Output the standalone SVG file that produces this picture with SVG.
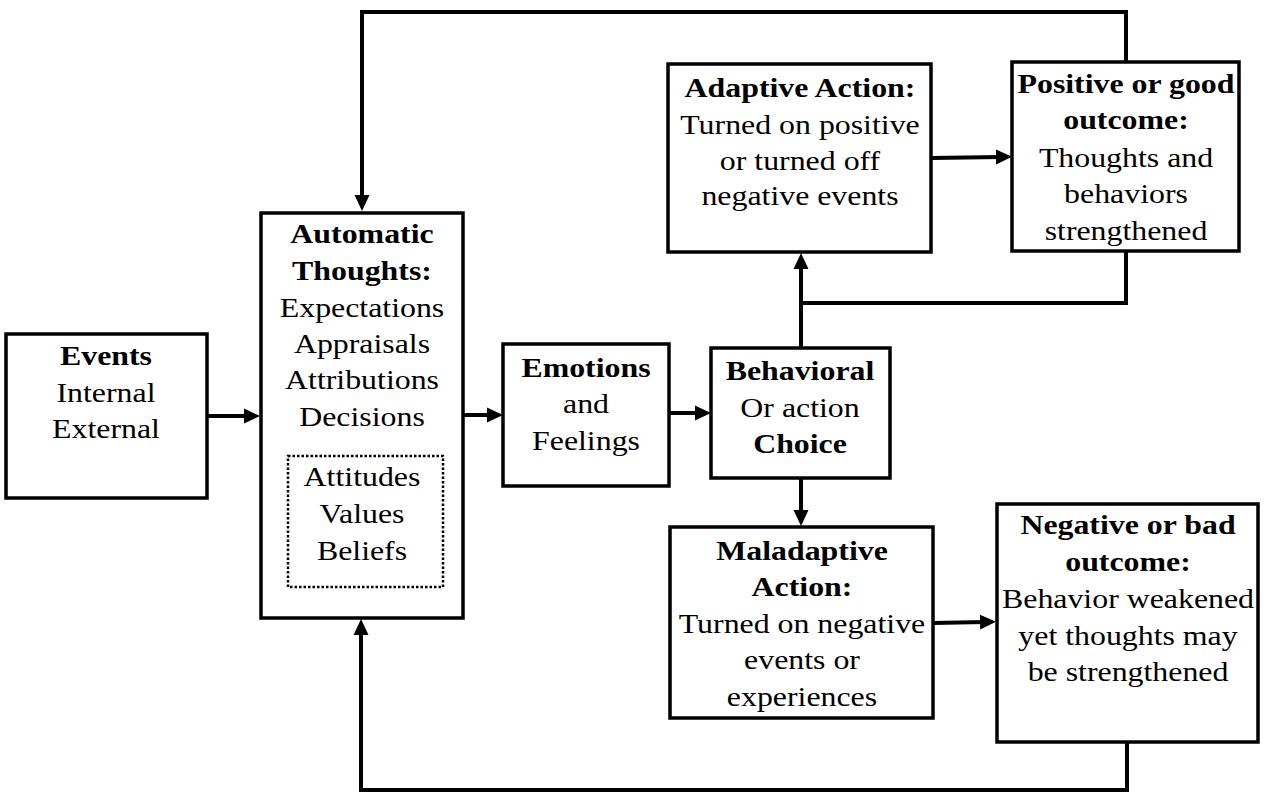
<svg xmlns="http://www.w3.org/2000/svg" width="1265" height="803" viewBox="0 0 1265 803">
<style>
.box{fill:#fff;stroke:#000;stroke-width:3.5}
.dot{fill:none;stroke:#000;stroke-width:2.5;stroke-dasharray:2.5 2}
text{font-family:"Liberation Serif","Times New Roman",serif;font-size:27px;fill:#000;text-anchor:middle}
.b{font-weight:bold}
.c{fill:none;stroke:#000;stroke-width:4;stroke-linejoin:miter;stroke-linecap:butt}
</style>
<defs>
<marker id="ah" markerUnits="userSpaceOnUse" markerWidth="16" markerHeight="16" refX="5" refY="8" orient="auto">
<path d="M0,0.5 L16,8 L0,15.5 z" fill="#000"/>
</marker>
</defs>
<rect width="1265" height="803" fill="#fff"/>

<g id="connectors">
<line class="c" x1="207" y1="416" x2="249" y2="416" marker-end="url(#ah)"/>
<line class="c" x1="463" y1="415" x2="492" y2="415" marker-end="url(#ah)"/>
<line class="c" x1="669" y1="413" x2="700" y2="413" marker-end="url(#ah)"/>
<line class="c" x1="801" y1="348" x2="801" y2="264" marker-end="url(#ah)"/>
<polyline class="c" points="1126,250 1126,303 801,303"/>
<line class="c" x1="931" y1="158" x2="1001" y2="157" marker-end="url(#ah)"/>
<polyline class="c" points="1126,62 1126,12 362,12 362,200" marker-end="url(#ah)"/>
<line class="c" x1="801" y1="478" x2="801" y2="515" marker-end="url(#ah)"/>
<line class="c" x1="933" y1="623" x2="985" y2="622" marker-end="url(#ah)"/>
<polyline class="c" points="1127,742 1127,790 361,790 361,630" marker-end="url(#ah)"/>
</g>

<g id="events">
<rect class="box" x="6" y="334" width="201" height="164"/>
<g transform="translate(106 0) scale(1.18 1)">
<text class="b" x="0" y="365">Events</text>
<text x="0" y="402">Internal</text>
<text x="0" y="438">External</text>
</g>
</g>

<g id="automatic">
<rect class="box" x="261" y="213" width="202" height="405"/>
<rect class="dot" x="288" y="456" width="155" height="131"/>
<g transform="translate(362 0) scale(1.18 1)">
<text class="b" x="0" y="243">Automatic</text>
<text class="b" x="0" y="280">Thoughts:</text>
<text x="0" y="317">Expectations</text>
<text x="0" y="353">Appraisals</text>
<text x="0" y="389">Attributions</text>
<text x="0" y="426">Decisions</text>
<text x="0" y="486">Attitudes</text>
<text x="0" y="523">Values</text>
<text x="0" y="560">Beliefs</text>
</g>
</g>

<g id="emotions">
<rect class="box" x="503" y="344" width="166" height="142"/>
<g transform="translate(586 0) scale(1.18 1)">
<text class="b" x="0" y="377">Emotions</text>
<text x="0" y="413">and</text>
<text x="0" y="450">Feelings</text>
</g>
</g>

<g id="behavioral">
<rect class="box" x="711" y="348" width="179" height="130"/>
<g transform="translate(800 0) scale(1.18 1)">
<text class="b" x="0" y="380">Behavioral</text>
<text x="0" y="417">Or action</text>
<text class="b" x="0" y="453">Choice</text>
</g>
</g>

<g id="adaptive">
<rect class="box" x="668" y="64" width="263" height="188"/>
<g transform="translate(800 0) scale(1.18 1)">
<text class="b" x="0" y="97">Adaptive Action:</text>
<text x="0" y="134">Turned on positive</text>
<text x="0" y="170">or turned off</text>
<text x="0" y="205">negative events</text>
</g>
</g>

<g id="positive">
<rect class="box" x="1012" y="62" width="227" height="189"/>
<g transform="translate(1126 0) scale(1.18 1)">
<text class="b" x="0" y="93">Positive or good</text>
<text class="b" x="0" y="129">outcome:</text>
<text x="0" y="167">Thoughts and</text>
<text x="0" y="203">behaviors</text>
<text x="0" y="240">strengthened</text>
</g>
</g>

<g id="maladaptive">
<rect class="box" x="670" y="527" width="263" height="191"/>
<g transform="translate(802 0) scale(1.18 1)">
<text class="b" x="0" y="560">Maladaptive</text>
<text class="b" x="0" y="596">Action:</text>
<text x="0" y="633">Turned on negative</text>
<text x="0" y="669">events or</text>
<text x="0" y="706">experiences</text>
</g>
</g>

<g id="negative">
<rect class="box" x="997" y="504" width="261" height="238"/>
<g transform="translate(1128 0) scale(1.18 1)">
<text class="b" x="0" y="534">Negative or bad</text>
<text class="b" x="0" y="571">outcome:</text>
<text x="0" y="608">Behavior weakened</text>
<text x="0" y="645">yet thoughts may</text>
<text x="0" y="681">be strengthened</text>
</g>
</g>
</svg>
